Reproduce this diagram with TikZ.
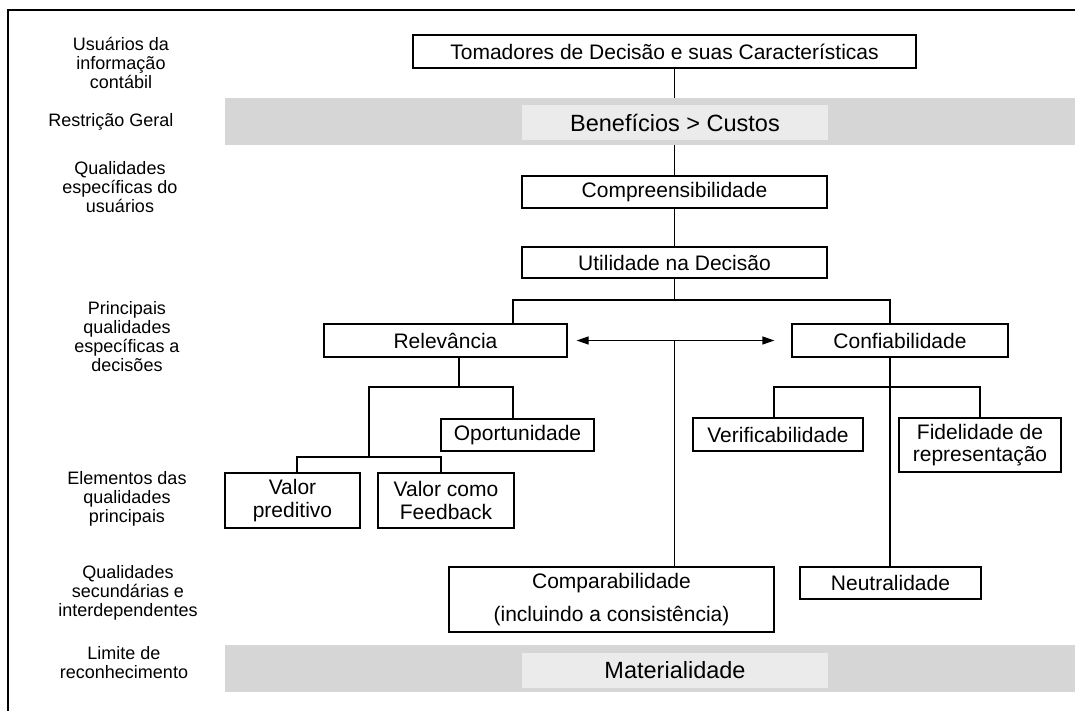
\documentclass[tikz,border=0pt]{standalone}
\usepackage{fontspec}
\setmainfont{Liberation Sans}
\usetikzlibrary{arrows.meta}
\definecolor{bandgray}{RGB}{214,214,214}
\definecolor{innergray}{RGB}{235,235,235}
\begin{document}
\begin{tikzpicture}[x=1pt,y=-1pt,
  box/.style={draw, line width=1.2pt, inner sep=0pt, align=center, font=\fontsize{21}{22.5}\selectfont},
  lbl/.style={inner sep=0pt, align=center, font=\fontsize{18}{19}\selectfont},
  band/.style={fill=bandgray, inner sep=0pt, minimum width=850pt, minimum height=47pt},
  bandtxt/.style={fill=innergray, inner sep=0pt, minimum width=306pt, minimum height=35pt, font=\fontsize{23.5}{26}\selectfont},
  conn/.style={line width=1.2pt},
  tip/.style={line width=1.2pt, {Triangle[length=12pt,width=8pt]}-{Triangle[length=12pt,width=8pt]}}]
\useasboundingbox (0,0) rectangle (1075,711);
\draw[line width=1.5pt] (8,711) -- (8,10) -- (1075,10);

% left labels
\node[lbl] (l1) at (121,63) {Usuários da\\informação\\contábil};
\node[lbl] (l2) at (111,122) {Restrição Geral};
\node[lbl] (l3) at (120,187) {Qualidades\\específicas do\\usuários};
\node[lbl] (l4) at (127,337) {Principais\\qualidades\\específicas a\\decisões};
\node[lbl] (l5) at (127,499) {Elementos das\\qualidades\\principais};
\node[lbl] (l6) at (128,593) {Qualidades\\secundárias e\\interdependentes};
\node[lbl] (l7) at (124,663) {Limite de\\reconhecimento};

% bands
\node[band] (band1) at (650,121.5) {};
\node[bandtxt] (ben) at (675,122.5) {Benefícios > Custos};
\node[band] (band2) at (650,668.5) {};
\node[bandtxt] (mat) at (675,670.5) {Materialidade};

% boxes
\node[box, minimum width=503pt, minimum height=33pt] (tom) at (664.5,51.5) {Tomadores de Decisão e suas Características};
\node[box, minimum width=305pt, minimum height=32pt] (comp) at (674.5,192) {Compreensibilidade};
\node[box, minimum width=305pt, minimum height=31pt] (util) at (674.5,262.5) {Utilidade na Decisão};
\node[box, minimum width=243pt, minimum height=33pt] (rel) at (445.5,340.5) {Relevância};
\node[box, minimum width=216pt, minimum height=33pt] (conf) at (900,340.5) {Confiabilidade};
\node[box, minimum width=153pt, minimum height=32pt] (opor) at (517.5,435) {Oportunidade};
\node[box, minimum width=170pt, minimum height=33pt] (verif) at (778,434.5) {Verificabilidade};
\node[box, minimum width=162pt, minimum height=54pt] (fid) at (980,445) {Fidelidade de\\representação};
\node[box, minimum width=135pt, minimum height=55pt] (vp) at (292.5,500.5) {Valor\\preditivo};
\node[box, minimum width=136pt, minimum height=55pt] (vf) at (446,500.5) {Valor como\\Feedback};
\node[box, minimum width=325pt, minimum height=65pt] (compar) at (611.5,599.5) {Comparabilidade\\[10pt](incluindo a consistência)};
\node[box, minimum width=181pt, minimum height=32pt] (neut) at (890.5,583) {Neutralidade};

% connector points
\coordinate (bL) at (513,300);
\coordinate (bR) at (890,300);
\coordinate (rA) at (459,387);
\coordinate (rL) at (369,387);
\coordinate (rR) at (513,387);
\coordinate (vL) at (297,457);
\coordinate (vR) at (441,457);
\coordinate (cL) at (774,387);
\coordinate (cR) at (980,387);
\coordinate (aL) at ([xshift=9pt]rel.east);
\coordinate (aR) at ([xshift=-17pt]conf.west);

% connectors
\draw[conn] (tom.south -| util.center) -- (band1.north -| util.center);
\draw[conn] (band1.south -| util.center) -- (comp.north);
\draw[conn] (comp.south) -- (util.north);
\draw[conn] (util.south) -- (util.south |- bL);
\draw[conn] (rel.north -| bL) -- (bL) -- (bR) -- (conf.north -| bR);
\draw[conn] (rel.south -| rA) -- (rA);
\draw[conn] (opor.north -| rR) -- (rR) -- (rL) -- (rL |- vL);
\draw[conn] (vp.north -| vL) -- (vL) -- (vR) -- (vf.north -| vR);
\draw[conn] (conf.south -| bR) -- (neut.north -| bR);
\draw[conn] (verif.north -| cL) -- (cL) -- (cR) -- (fid.north -| cR);
\draw[tip] (aL) -- (aR);
\draw[conn] (util.south |- aL) -- (compar.north -| util.south);
\end{tikzpicture}
\end{document}
